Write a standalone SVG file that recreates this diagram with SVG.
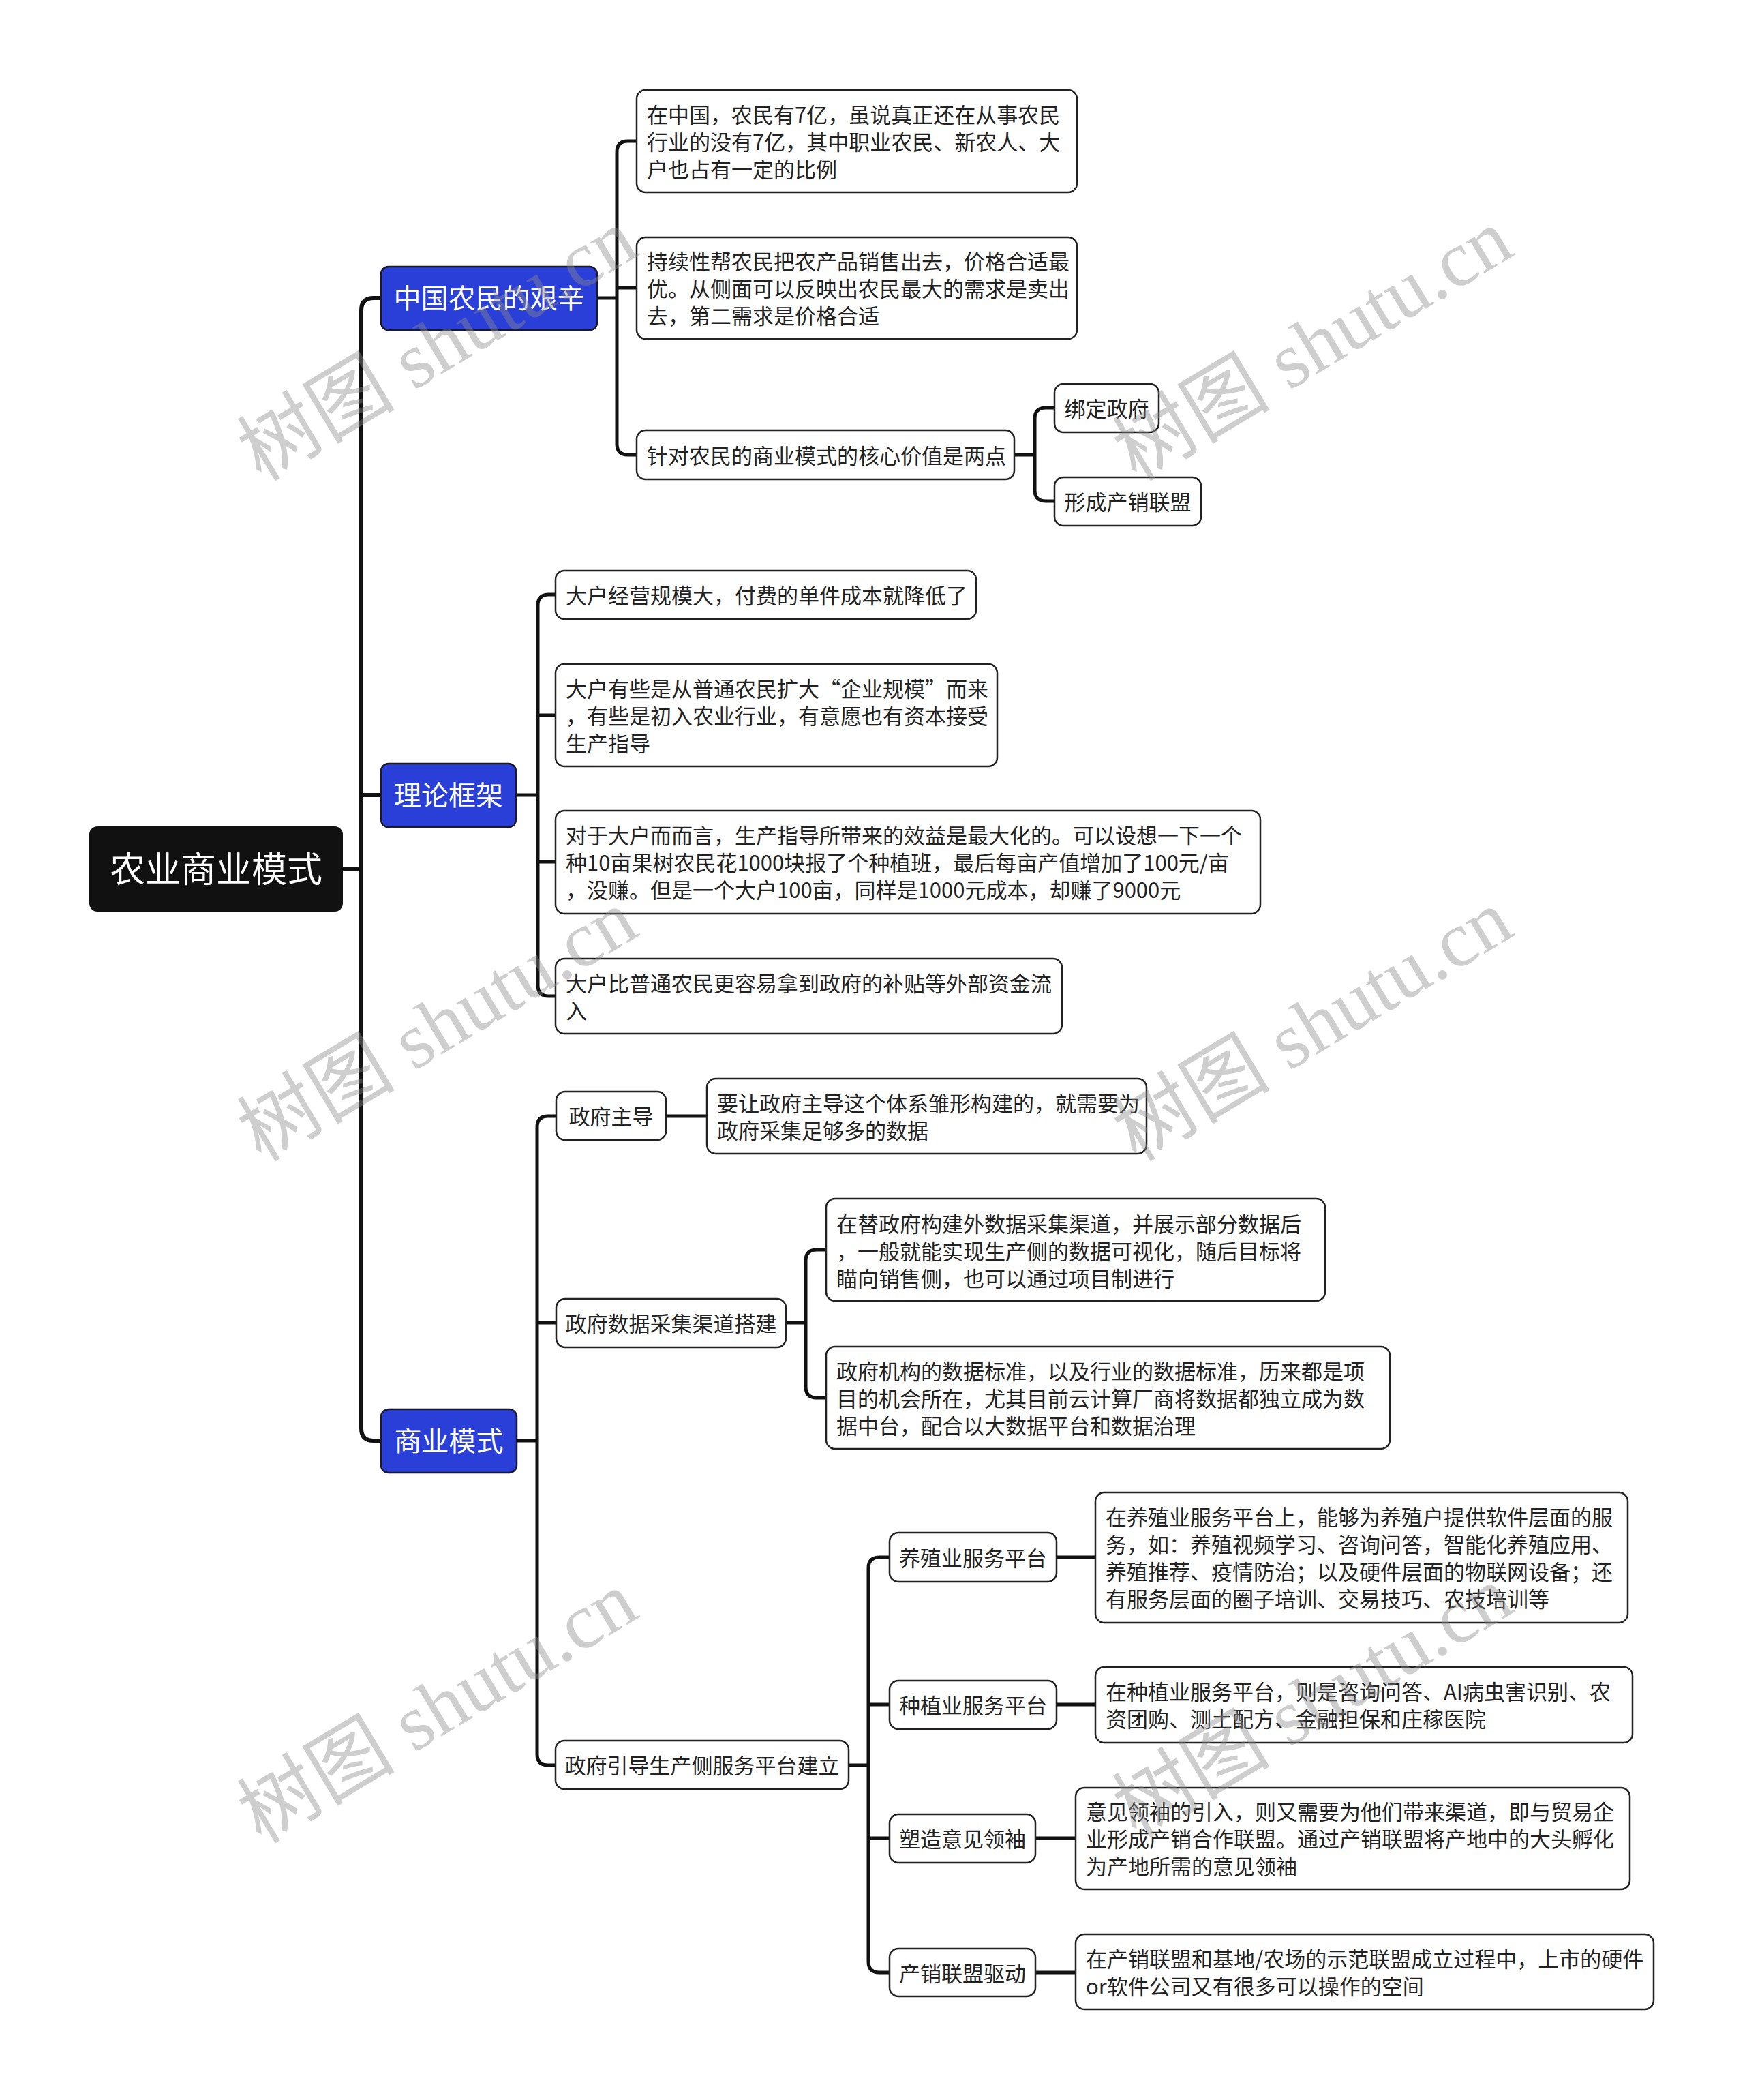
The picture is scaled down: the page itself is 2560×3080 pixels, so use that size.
<svg xmlns="http://www.w3.org/2000/svg" width="2560" height="3080" viewBox="0 0 2560 3080">
<style>
.bg{fill:#ffffff}
.root rect{fill:#111111}
.root text{fill:#ffffff;font-size:52px}
.l1 rect{fill:#2a3fd8;stroke:#1a1a2a;stroke-width:2.5}
.l1 text{fill:#ffffff;font-size:40px}
.leaf rect{fill:#ffffff;stroke:#222222;stroke-width:2.5}
text{font-family:"Noto Sans CJK SC","Liberation Sans",sans-serif;fill:#222222;font-size:31px}
.c{text-anchor:middle}
.conn path{fill:none;stroke:#111111;stroke-width:5;stroke-linecap:butt;stroke-linejoin:round}
.conn path.trunk{stroke-width:6}
.wm text{font-family:"Liberation Serif","Noto Sans CJK SC",serif;font-size:116px;fill:#8a8a8a;fill-opacity:0.42;text-anchor:middle}
</style>
<rect class="bg" x="0" y="0" width="2560" height="3080"/>

<g id="connectors" class="conn">
  <path class="trunk" d="M503 1275 H530"/>
  <path class="trunk" d="M559 437 H548 Q530 437 530 455 V2095 Q530 2113 548 2113 H559"/>
  <path class="trunk" d="M530 1166 H559"/>

  <path d="M876 437 H905"/>
  <path d="M934 207 H921 Q905 207 905 223 V651 Q905 667 921 667 H934"/>
  <path d="M905 422 H934"/>

  <path d="M1488 667 H1518"/>
  <path d="M1547 598 H1534 Q1518 598 1518 614 V719 Q1518 735 1534 735 H1547"/>

  <path d="M757 1166 H789"/>
  <path d="M815 872 H805 Q789 872 789 888 V1445 Q789 1461 805 1461 H815"/>
  <path d="M789 1049 H815"/>
  <path d="M789 1264 H815"/>

  <path d="M758 2113 H788"/>
  <path d="M816 1637 H804 Q788 1637 788 1653 V2573 Q788 2589 804 2589 H815"/>
  <path d="M788 1940 H816"/>

  <path d="M977 1637 H1037"/>

  <path d="M1153 1940 H1182"/>
  <path d="M1212 1833 H1198 Q1182 1833 1182 1849 V2034 Q1182 2050 1198 2050 H1212"/>

  <path d="M1245 2589 H1274"/>
  <path d="M1305 2284 H1290 Q1274 2284 1274 2300 V2877 Q1274 2893 1290 2893 H1305"/>
  <path d="M1274 2500 H1305"/>
  <path d="M1274 2696 H1305"/>

  <path d="M1550 2284 H1607"/>
  <path d="M1550 2500 H1607"/>
  <path d="M1519 2696 H1578"/>
  <path d="M1519 2893 H1578"/>
</g>

<g id="root" class="root">
  <rect x="131" y="1212" width="372" height="125" rx="12"/>
  <text class="c" x="317" y="1294">农业商业模式</text>
</g>

<g id="n-a" class="l1">
  <rect x="559" y="391" width="317" height="93" rx="11"/>
  <text class="c" x="717.5" y="452">中国农民的艰辛</text>
</g>
<g id="n-b" class="l1">
  <rect x="559" y="1120" width="198" height="93" rx="11"/>
  <text class="c" x="658" y="1181">理论框架</text>
</g>
<g id="n-c" class="l1">
  <rect x="559" y="2067" width="199" height="93" rx="11"/>
  <text class="c" x="658.5" y="2128">商业模式</text>
</g>

<g id="n-a1" class="leaf">
  <rect x="934" y="132" width="646" height="150" rx="13"/>
  <text x="949"><tspan x="949" y="180">在中国，农民有7亿，虽说真正还在从事农民</tspan><tspan x="949" y="220">行业的没有7亿，其中职业农民、新农人、大</tspan><tspan x="949" y="260">户也占有一定的比例</tspan></text>
</g>
<g id="n-a2" class="leaf">
  <rect x="934" y="348" width="646" height="149" rx="13"/>
  <text x="949"><tspan x="949" y="395">持续性帮农民把农产品销售出去，价格合适最</tspan><tspan x="949" y="435">优。从侧面可以反映出农民最大的需求是卖出</tspan><tspan x="949" y="475">去，第二需求是价格合适</tspan></text>
</g>
<g id="n-a3" class="leaf">
  <rect x="934" y="631" width="554" height="72" rx="13"/>
  <text x="949" y="680">针对农民的商业模式的核心价值是两点</text>
</g>
<g id="n-a3a" class="leaf">
  <rect x="1547" y="563" width="153" height="71" rx="13"/>
  <text class="c" x="1623.5" y="611">绑定政府</text>
</g>
<g id="n-a3b" class="leaf">
  <rect x="1547" y="700" width="215" height="71" rx="13"/>
  <text class="c" x="1654.5" y="748">形成产销联盟</text>
</g>

<g id="n-b1" class="leaf">
  <rect x="815" y="837" width="617" height="71" rx="13"/>
  <text x="830" y="885">大户经营规模大，付费的单件成本就降低了</text>
</g>
<g id="n-b2" class="leaf">
  <rect x="815" y="974" width="648" height="150" rx="13"/>
  <text x="830"><tspan x="830" y="1022">大户有些是从普通农民扩大“企业规模”而来</tspan><tspan x="830" y="1062">，有些是初入农业行业，有意愿也有资本接受</tspan><tspan x="830" y="1102">生产指导</tspan></text>
</g>
<g id="n-b3" class="leaf">
  <rect x="815" y="1189" width="1034" height="151" rx="13"/>
  <text x="830"><tspan x="830" y="1237">对于大户而而言，生产指导所带来的效益是最大化的。可以设想一下一个</tspan><tspan x="830" y="1277">种10亩果树农民花1000块报了个种植班，最后每亩产值增加了100元/亩</tspan><tspan x="830" y="1317">，没赚。但是一个大户100亩，同样是1000元成本，却赚了9000元</tspan></text>
</g>
<g id="n-b4" class="leaf">
  <rect x="815" y="1406" width="743" height="110" rx="13"/>
  <text x="830"><tspan x="830" y="1454">大户比普通农民更容易拿到政府的补贴等外部资金流</tspan><tspan x="830" y="1494">入</tspan></text>
</g>

<g id="n-c1" class="leaf">
  <rect x="816" y="1601" width="161" height="71" rx="13"/>
  <text class="c" x="896.5" y="1649">政府主导</text>
</g>
<g id="n-c1a" class="leaf">
  <rect x="1037" y="1582" width="645" height="110" rx="13"/>
  <text x="1052"><tspan x="1052" y="1630">要让政府主导这个体系雏形构建的，就需要为</tspan><tspan x="1052" y="1670">政府采集足够多的数据</tspan></text>
</g>
<g id="n-c2" class="leaf">
  <rect x="816" y="1905" width="337" height="71" rx="13"/>
  <text class="c" x="984.5" y="1953">政府数据采集渠道搭建</text>
</g>
<g id="n-c2a" class="leaf">
  <rect x="1212" y="1758" width="732" height="150" rx="13"/>
  <text x="1227"><tspan x="1227" y="1807">在替政府构建外数据采集渠道，并展示部分数据后</tspan><tspan x="1227" y="1847">，一般就能实现生产侧的数据可视化，随后目标将</tspan><tspan x="1227" y="1887">瞄向销售侧，也可以通过项目制进行</tspan></text>
</g>
<g id="n-c2b" class="leaf">
  <rect x="1212" y="1975" width="827" height="150" rx="13"/>
  <text x="1227"><tspan x="1227" y="2023">政府机构的数据标准，以及行业的数据标准，历来都是项</tspan><tspan x="1227" y="2063">目的机会所在，尤其目前云计算厂商将数据都独立成为数</tspan><tspan x="1227" y="2103">据中台，配合以大数据平台和数据治理</tspan></text>
</g>
<g id="n-c3" class="leaf">
  <rect x="815" y="2553" width="430" height="71" rx="13"/>
  <text class="c" x="1030" y="2601">政府引导生产侧服务平台建立</text>
</g>
<g id="n-c3a" class="leaf">
  <rect x="1305" y="2248" width="245" height="72" rx="13"/>
  <text class="c" x="1427.5" y="2297">养殖业服务平台</text>
</g>
<g id="n-c3a1" class="leaf">
  <rect x="1607" y="2189" width="781" height="191" rx="13"/>
  <text x="1622"><tspan x="1622" y="2237">在养殖业服务平台上，能够为养殖户提供软件层面的服</tspan><tspan x="1622" y="2277">务，如：养殖视频学习、咨询问答，智能化养殖应用、</tspan><tspan x="1622" y="2317">养殖推荐、疫情防治；以及硬件层面的物联网设备；还</tspan><tspan x="1622" y="2357">有服务层面的圈子培训、交易技巧、农技培训等</tspan></text>
</g>
<g id="n-c3b" class="leaf">
  <rect x="1305" y="2465" width="245" height="71" rx="13"/>
  <text class="c" x="1427.5" y="2513">种植业服务平台</text>
</g>
<g id="n-c3b1" class="leaf">
  <rect x="1607" y="2445" width="788" height="111" rx="13"/>
  <text x="1622"><tspan x="1622" y="2493">在种植业服务平台，则是咨询问答、AI病虫害识别、农</tspan><tspan x="1622" y="2533">资团购、测土配方、金融担保和庄稼医院</tspan></text>
</g>
<g id="n-c3c" class="leaf">
  <rect x="1305" y="2661" width="214" height="71" rx="13"/>
  <text class="c" x="1412" y="2709">塑造意见领袖</text>
</g>
<g id="n-c3c1" class="leaf">
  <rect x="1578" y="2622" width="813" height="149" rx="13"/>
  <text x="1593"><tspan x="1593" y="2669">意见领袖的引入，则又需要为他们带来渠道，即与贸易企</tspan><tspan x="1593" y="2709">业形成产销合作联盟。通过产销联盟将产地中的大头孵化</tspan><tspan x="1593" y="2749">为产地所需的意见领袖</tspan></text>
</g>
<g id="n-c3d" class="leaf">
  <rect x="1305" y="2858" width="214" height="70" rx="13"/>
  <text class="c" x="1412" y="2906">产销联盟驱动</text>
</g>
<g id="n-c3d1" class="leaf">
  <rect x="1578" y="2837" width="848" height="110" rx="13"/>
  <text x="1593"><tspan x="1593" y="2885">在产销联盟和基地/农场的示范联盟成立过程中，上市的硬件</tspan><tspan x="1593" y="2925">or软件公司又有很多可以操作的空间</tspan></text>
</g>

<g id="watermarks" class="wm">
  <text transform="translate(662 540) rotate(-31)">树图 shutu.cn</text>
  <text transform="translate(1946 540) rotate(-31)">树图 shutu.cn</text>
  <text transform="translate(662 1538) rotate(-31)">树图 shutu.cn</text>
  <text transform="translate(1946 1538) rotate(-31)">树图 shutu.cn</text>
  <text transform="translate(662 2538) rotate(-31)">树图 shutu.cn</text>
  <text transform="translate(1946 2530) rotate(-31)">树图 shutu.cn</text>
</g>
</svg>
